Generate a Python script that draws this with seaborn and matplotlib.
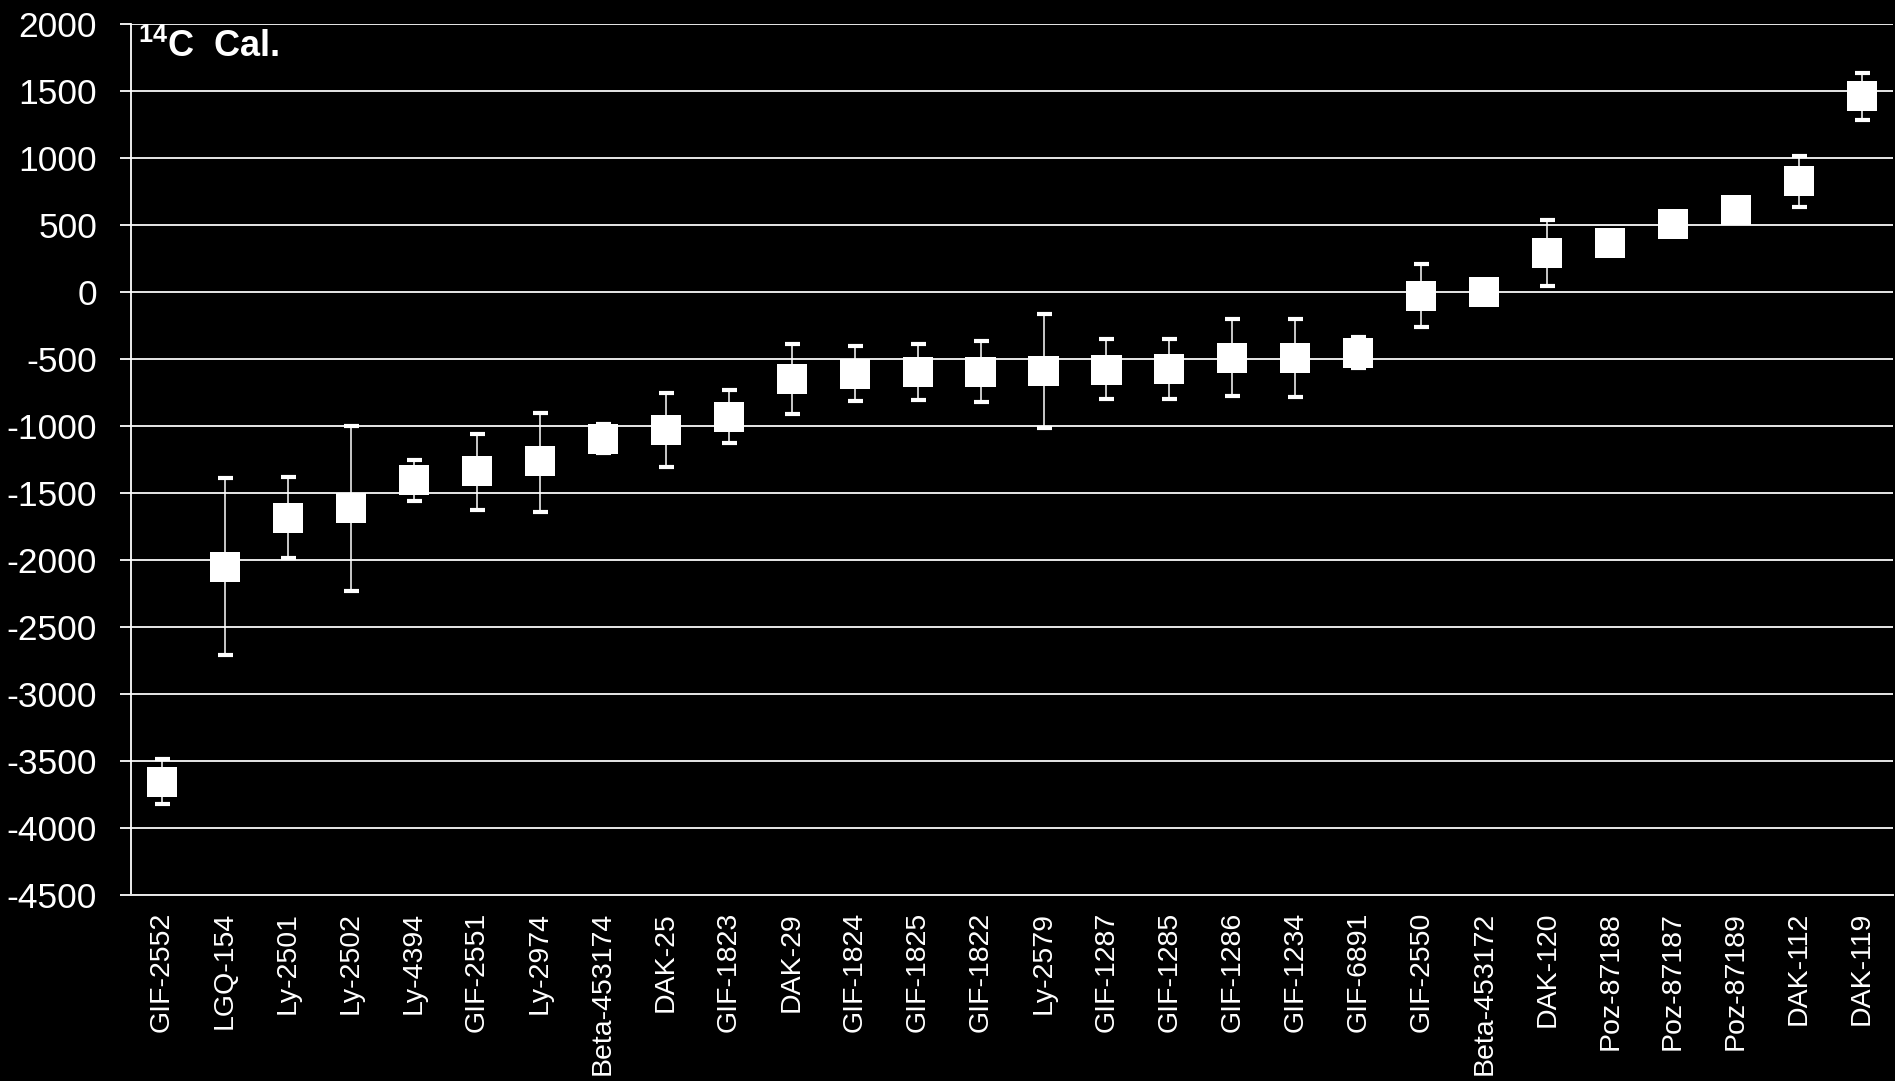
import numpy as np
import pandas as pd
import seaborn as sns
import matplotlib.pyplot as plt

# sample labels and calibrated dates (centre, upper and lower ends of range)
samples = ["GIF-2552", "LGQ-154", "Ly-2501", "Ly-2502", "Ly-4394", "GIF-2551",
           "Ly-2974", "Beta-453174", "DAK-25", "GIF-1823", "DAK-29", "GIF-1824",
           "GIF-1825", "GIF-1822", "Ly-2579", "GIF-1287", "GIF-1285", "GIF-1286",
           "GIF-1234", "GIF-6891", "GIF-2550", "Beta-453172", "DAK-120",
           "Poz-87188", "Poz-87187", "Poz-87189", "DAK-112", "DAK-119"]
dates = [-3656, -2049, -1682, -1612, -1404, -1336, -1262, -1096, -1025, -928,
         -645, -609, -592, -592, -584, -579, -571, -489, -490, -453,
         -26, 4, 295, 369, 511, 615, 833, 1464]
upper = [-3482, -1385, -1382, -995, -1252, -1057, -897, -985, -750, -729,
         -383, -398, -388, -361, -160, -350, -350, -201, -197, -331,
         214, 4, 537, 369, 511, 615, 1020, 1639]
lower = [-3817, -2710, -1980, -2232, -1560, -1627, -1640, -1200, -1305, -1124,
         -908, -811, -801, -821, -1010, -799, -796, -777, -780, -567,
         -261, 4, 50, 369, 511, 615, 639, 1286]
yticks = list(range(-4500, 2001, 500))

df = pd.DataFrame({"sample": samples, "date": dates, "upper": upper, "lower": lower})
df["x"] = np.arange(len(df))

sns.set_style("dark", {"axes.facecolor": "black", "figure.facecolor": "black"})
plt.rcParams["font.family"] = ["Liberation Sans", "DejaVu Sans"]
plt.rcParams["mathtext.fontset"] = "custom"
plt.rcParams["mathtext.bf"] = "Liberation Sans:bold"
plt.rcParams["mathtext.rm"] = "Liberation Sans"

fig = plt.figure(figsize=(18.95, 10.81), dpi=100, facecolor="black")
ax = fig.add_axes([0.0689, 0.1718, 0.9303, 0.8057])
ax.set_facecolor("black")

yerr = [df["date"] - df["lower"], df["upper"] - df["date"]]
ax.errorbar(df["x"], df["date"], yerr=yerr, fmt="none", ecolor="white",
            elinewidth=1.1, capsize=5.4, capthick=3.0, zorder=3)
sns.scatterplot(data=df, x="x", y="date", marker="s", s=470, color="white",
                edgecolor="none", linewidth=0, ax=ax, zorder=4, legend=False)

ax.set_xlim(-0.5, len(df) - 0.5)
ax.set_ylim(-4500, 2000)
ax.set_yticks(yticks)
ax.set_yticklabels([str(v) for v in yticks])
ax.set_xticks(df["x"])
ax.set_xticklabels(df["sample"], rotation=90)
ax.set_xlabel("")
ax.set_ylabel("")

ax.grid(False)
for v in yticks:
    ax.axhline(v, color="#e8e8e8", lw=1.4, zorder=1)

for s in ["top", "right"]:
    ax.spines[s].set_visible(False)
ax.spines["left"].set_color("white")
ax.spines["left"].set_linewidth(1.3)
ax.spines["bottom"].set_color("#e8e8e8")
ax.spines["bottom"].set_linewidth(1.4)

ax.tick_params(axis="y", colors="white", labelsize=25.5, length=8, width=1.3,
               pad=16, left=True, direction="out")
ax.tick_params(axis="x", colors="white", labelsize=20.5, length=0, pad=12)

ax.text(0.004, 0.9625, r"$\mathbf{^{14}}$C  Cal.", transform=ax.transAxes,
        color="white", fontsize=26, fontweight="bold", va="baseline", ha="left")

fig.savefig("out.png", dpi=100, facecolor="black")
